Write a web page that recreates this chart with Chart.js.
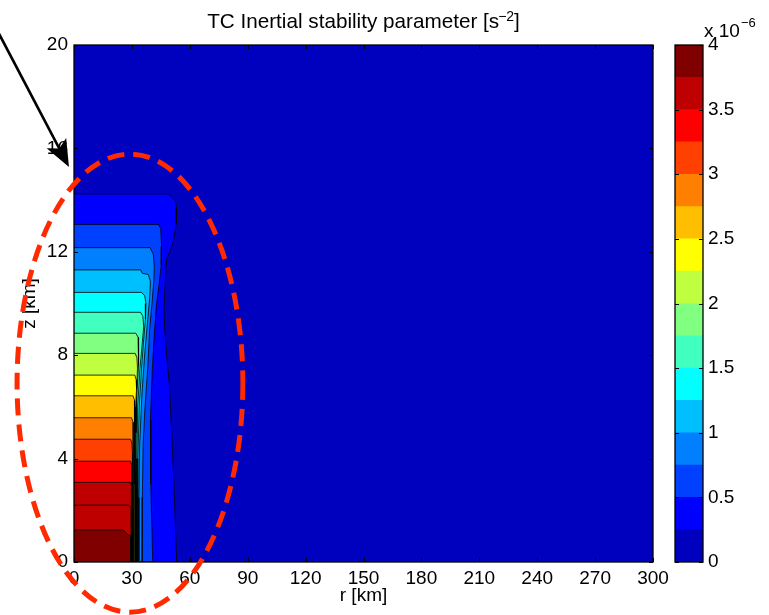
<!DOCTYPE html>
<html>
<head>
<meta charset="utf-8">
<script src="https://cdn.jsdelivr.net/npm/chart.js"></script>
<style>
  html, body { margin: 0; padding: 0; background: #fff; }
  #wrap { position: relative; width: 769px; height: 615px; overflow: hidden; }
  #main { position: absolute; left: 0; top: 0; }
  #cbar { position: absolute; left: 640px; top: 0; }
</style>
</head>
<body>
<div id="wrap">
  <canvas id="main" width="769" height="615"></canvas>
  <canvas id="cbar" width="129" height="615"></canvas>
</div>
<script>
// ---------- data ----------
const X_TICKS = [0, 30, 60, 90, 120, 150, 180, 210, 240, 270, 300];   // r [km]
const Y_TICKS = [0, 4, 8, 12, 16, 20];                                 // z [km]
const CBAR_LEVELS = [0, 0.25, 0.5, 0.75, 1, 1.25, 1.5, 1.75, 2, 2.25, 2.5, 2.75, 3, 3.25, 3.5, 3.75, 4]; // x 1e-6 s^-2
const CBAR_TICKS = [0, 0.5, 1, 1.5, 2, 2.5, 3, 3.5, 4];
const JET16 = ['#0000BF', '#0000FF', '#0040FF', '#0080FF', '#00BFFF', '#00FFFF', '#40FFBF', '#80FF80',
               '#BFFF40', '#FFFF00', '#FFBF00', '#FF8000', '#FF4000', '#FF0000', '#BF0000', '#800000'];

// contour levels (x 1e-6 s^-2) and the outline of the region where the field exceeds each level
const LEVELS = [0.25, 0.5, 0.75, 1.0, 1.25, 1.5, 1.75, 2.0, 2.25, 2.5, 2.75, 3.0, 3.25, 3.5, 3.6, 3.75];
const EDGE_R = [
  [0, 48.9, 52.3, 53.2, 53.0, 51.5, 49.7, 48.0, 47.2, 46.6, 47.0, 48.0, 49.3, 50.6, 51.8, 53.2],
  [0, 43.7, 44.9, 45.4, 45.2, 44.2, 42.8, 41.8, 40.6, 39.6, 39.8, 40.8],
  [0, 39.4, 41.1, 41.6, 41.4, 40.4, 39.2, 38.2, 36.8, 35.8, 35.4, 35.3],
  [0, 34.5, 35.3, 38.5, 39.6, 39.2, 38.0, 36.6, 35.2, 34.0, 33.6, 33.6],
  [0, 35.0, 36.6, 37.3, 37.0, 36.0, 35.0, 33.8, 33.1, 33.0],
  [0, 34.5, 35.7, 36.1, 35.3, 34.2, 33.0, 32.6, 32.5],
  [0, 32.0, 33.2, 33.6, 33.3, 32.6, 32.2, 32.1, 32.1],
  [0, 31.7, 32.6, 32.9, 32.5, 32.0, 31.8, 31.8],
  [0, 31.5, 32.2, 32.4, 31.9, 31.7, 31.6, 31.6],
  [0, 30.6, 31.4, 31.6, 31.3, 31.1, 31.0],
  [0, 29.8, 30.6, 30.8, 30.7, 30.6],
  [0, 29.3, 30.0, 30.3, 30.3],
  [0, 29.3, 29.9, 30.0],
  [0, 29.2, 29.7, 29.8],
  [0, 28.5, 29.5, 29.6],
  [0, 25.5, 28.0, 29.3, 29.4]
];
const EDGE_Z = [
  [14.24, 14.24, 14.0, 13.7, 13.1, 12.4, 12.0, 11.75, 10.7, 9.8, 9.0, 8.0, 7.0, 5.0, 3.0, 0],
  [13.06, 13.06, 12.9, 12.2, 11.5, 10.8, 10.0, 9.0, 7.5, 5.5, 3.0, 0],
  [12.16, 12.16, 11.9, 11.4, 10.9, 10.0, 9.0, 7.5, 6.0, 4.5, 2.5, 0],
  [11.3, 11.3, 11.17, 11.12, 10.85, 10.2, 9.2, 8.0, 6.5, 4.5, 2.5, 0],
  [10.43, 10.43, 10.3, 10.0, 9.4, 8.5, 7.5, 6.0, 4.0, 0],
  [9.66, 9.66, 9.5, 9.1, 8.4, 7.5, 6.0, 4.0, 0],
  [8.85, 8.85, 8.7, 8.3, 7.6, 6.5, 5.0, 3.0, 0],
  [8.07, 8.07, 7.9, 7.5, 6.8, 5.8, 4.0, 0],
  [7.23, 7.23, 7.05, 6.7, 6.0, 5.0, 3.0, 0],
  [6.43, 6.43, 6.25, 5.9, 5.0, 3.0, 0],
  [5.58, 5.58, 5.4, 5.0, 3.5, 0],
  [4.75, 4.75, 4.6, 4.2, 0],
  [3.9, 3.9, 3.75, 0],
  [3.08, 3.08, 2.95, 0],
  [2.2, 2.2, 2.08, 0],
  [1.24, 1.24, 1.05, 1.0, 0]
];

// annotation (in data units r [km], z [km])
const ELLIPSE = { r: 29, z: 6.92, dr: 58.5, dz: 8.86 };
const ARROW = { r0: -40, z0: 20.6, r1: -2.6, z1: 15.28 };

// title pieces (main text, superscript, closing)
const TITLE = ['TC Inertial stability parameter [s', '\u22122', ']'];

// ---------- helpers ----------
const FAMILY = "'Liberation Sans', Arial, Helvetica, sans-serif";
const FONT = { family: FAMILY, size: 19, weight: 'normal' };
function levelColor(v) {
  let i = 0;
  while (i + 1 < CBAR_LEVELS.length - 1 && v >= CBAR_LEVELS[i + 1] - 1e-9) i++;
  return JET16[i];
}

const datasets = [];
// highest level first so it is drawn on top
for (let k = LEVELS.length - 1; k >= 0; k--) {
  const pts = EDGE_R[k].map((r, i) => ({ x: r, y: EDGE_Z[k][i] }));
  pts.push({ x: 0, y: 0 });
  datasets.push({
    label: 'level ' + LEVELS[k],
    data: pts,
    fill: 'shape',
    backgroundColor: levelColor(LEVELS[k]),
    borderColor: '#000',
    borderWidth: 0.8,
    pointRadius: 0,
    tension: 0
  });
}
// lowest band: the whole domain
const R_MAX = X_TICKS[X_TICKS.length - 1], Z_MAX = Y_TICKS[Y_TICKS.length - 1];
datasets.push({
  label: 'level 0',
  data: [{ x: 0, y: 0 }, { x: 0, y: Z_MAX }, { x: R_MAX, y: Z_MAX }, { x: R_MAX, y: 0 }],
  fill: 'shape',
  backgroundColor: JET16[0],
  borderWidth: 0,
  pointRadius: 0
});

// frame + inward tick marks (MATLAB style)
const framePlugin = {
  id: 'frame',
  afterDatasetsDraw(chart) {
    const { ctx, chartArea: a } = chart;
    const L = 4;
    ctx.save();
    ctx.strokeStyle = '#000';
    ctx.lineWidth = 1;
    ctx.beginPath();
    Object.values(chart.scales).forEach(s => {
      if (s.options.display === false) return;
      s.ticks.forEach(t => {
        const p = Math.round(s.getPixelForValue(t.value)) + 0.5;
        if (s.isHorizontal()) {
          ctx.moveTo(p, a.bottom); ctx.lineTo(p, a.bottom - L);
          ctx.moveTo(p, a.top); ctx.lineTo(p, a.top + L);
        } else {
          ctx.moveTo(a.left, p); ctx.lineTo(a.left + L, p);
          ctx.moveTo(a.right, p); ctx.lineTo(a.right - L, p);
        }
      });
    });
    ctx.stroke();
    ctx.lineWidth = 1.3;
    ctx.strokeRect(a.left, a.top, a.right - a.left, a.bottom - a.top);
    ctx.restore();
  }
};

// title with a real superscript
const titlePlugin = {
  id: 'supTitle',
  afterDraw(chart) {
    const { ctx, chartArea: a } = chart;
    ctx.save();
    ctx.fillStyle = '#000';
    ctx.textBaseline = 'alphabetic';
    ctx.textAlign = 'left';
    const big = '20.7px ' + FAMILY, small = '14px ' + FAMILY;
    ctx.font = big;
    const w0 = ctx.measureText(TITLE[0]).width, w2 = ctx.measureText(TITLE[2]).width;
    ctx.font = small;
    const w1 = ctx.measureText(TITLE[1]).width;
    const total = w0 + w1 - 1 + w2;
    const baseY = a.top - 16.7;
    let x = (a.left + a.right) / 2 - total / 2;
    ctx.font = big; ctx.fillText(TITLE[0], x, baseY); x += w0 - 1;
    ctx.font = small; ctx.fillText(TITLE[1], x, baseY - 7.5); x += w1;
    ctx.font = big; ctx.fillText(TITLE[2], x, baseY);
    ctx.restore();
  }
};

const annotPlugin = {
  id: 'annot',
  afterDraw(chart) {
    const { ctx } = chart;
    const xs = chart.scales.x, ys = chart.scales.y;
    const cx = xs.getPixelForValue(ELLIPSE.r), cy = ys.getPixelForValue(ELLIPSE.z);
    const rx = Math.abs(xs.getPixelForValue(ELLIPSE.r + ELLIPSE.dr) - cx);
    const ry = Math.abs(ys.getPixelForValue(ELLIPSE.z + ELLIPSE.dz) - cy);
    ctx.save();
    ctx.strokeStyle = '#ff2a00';
    ctx.lineWidth = 5;
    ctx.setLineDash([17, 9]);
    ctx.beginPath();
    ctx.ellipse(cx, cy, rx, ry, 0, 0, 2 * Math.PI);
    ctx.stroke();

    const x0 = xs.getPixelForValue(ARROW.r0), y0 = ys.getPixelForValue(ARROW.z0);
    const x1 = xs.getPixelForValue(ARROW.r1), y1 = ys.getPixelForValue(ARROW.z1);
    const dx = x1 - x0, dy = y1 - y0, len = Math.hypot(dx, dy);
    const ux = dx / len, uy = dy / len, px = -uy, py = ux;
    const head = 27, half = 11, notch = 21;
    ctx.setLineDash([]);
    ctx.strokeStyle = '#000';
    ctx.lineWidth = 2.6;
    ctx.beginPath();
    ctx.moveTo(x0, y0);
    ctx.lineTo(x1 - ux * notch, y1 - uy * notch);
    ctx.stroke();
    ctx.fillStyle = '#000';
    ctx.beginPath();
    ctx.moveTo(x1, y1);
    ctx.lineTo(x1 - ux * head + px * half, y1 - uy * head + py * half);
    ctx.lineTo(x1 - ux * notch, y1 - uy * notch);
    ctx.lineTo(x1 - ux * head - px * half, y1 - uy * head - py * half);
    ctx.closePath();
    ctx.fill();
    ctx.restore();
  }
};

new Chart(document.getElementById('main'), {
  type: 'line',
  data: { datasets },
  options: {
    responsive: false,
    animation: false,
    events: [],
    devicePixelRatio: 1,
    layout: { padding: { left: 0, right: 116, top: 45, bottom: 0 } },
    plugins: {
      legend: { display: false },
      tooltip: { enabled: false },
      title: { display: false }
    },
    scales: {
      x: {
        type: 'linear', min: X_TICKS[0], max: R_MAX,
        afterBuildTicks: s => { s.ticks = X_TICKS.map(v => ({ value: v })); },
        afterFit: s => { s.height = 53; },
        grid: { display: false, drawTicks: false },
        border: { display: false },
        ticks: { font: FONT, color: '#000', padding: 5, maxRotation: 0, autoSkip: false },
        title: { display: true, text: 'r [km]', font: FONT, color: '#000', padding: { top: 0, bottom: 7.6 } }
      },
      y: {
        type: 'linear', min: Y_TICKS[0], max: Z_MAX,
        afterBuildTicks: s => { s.ticks = Y_TICKS.map(v => ({ value: v })); },
        afterFit: s => { s.width = 74; },
        grid: { display: false, drawTicks: false },
        border: { display: false },
        ticks: { font: FONT, color: '#000', padding: 6, autoSkip: false },
        title: { display: true, text: 'z [km]', font: FONT, color: '#000', padding: { top: 18.6, bottom: 0 } }
      }
    }
  },
  plugins: [framePlugin, titlePlugin, annotPlugin]
});

// ---------- colorbar ----------
const expPlugin = {
  id: 'exp',
  afterDraw(chart) {
    const { ctx, chartArea: a } = chart;
    ctx.save();
    ctx.fillStyle = '#000';
    ctx.textBaseline = 'alphabetic';
    ctx.font = '19px ' + FAMILY;
    const bx = a.right + 1, by = a.top - 8;
    ctx.fillText('x 10', bx, by);
    const w = ctx.measureText('x 10').width;
    ctx.font = '13px ' + FAMILY;
    ctx.fillText('\u22126', bx + w + 1, by - 10);
    ctx.restore();
  }
};

new Chart(document.getElementById('cbar'), {
  type: 'bar',
  data: {
    labels: [''],
    datasets: JET16.map((c, i) => ({
      data: [[CBAR_LEVELS[i], CBAR_LEVELS[i + 1]]],
      backgroundColor: c,
      borderWidth: 0,
      barPercentage: 1,
      categoryPercentage: 1,
      grouped: false
    }))
  },
  options: {
    responsive: false,
    animation: false,
    events: [],
    devicePixelRatio: 1,
    layout: { padding: { left: 35, right: 0, top: 45, bottom: 53 } },
    plugins: { legend: { display: false }, tooltip: { enabled: false }, title: { display: false } },
    scales: {
      x: { display: false },
      y: {
        position: 'right',
        min: CBAR_LEVELS[0], max: CBAR_LEVELS[CBAR_LEVELS.length - 1],
        afterBuildTicks: s => { s.ticks = CBAR_TICKS.map(v => ({ value: v })); },
        afterFit: s => { s.width = 66; },
        grid: { display: false, drawTicks: false },
        border: { display: false },
        ticks: { font: FONT, color: '#000', padding: 5, callback: v => String(v) }
      }
    }
  },
  plugins: [framePlugin, expPlugin]
});
</script>
</body>
</html>
